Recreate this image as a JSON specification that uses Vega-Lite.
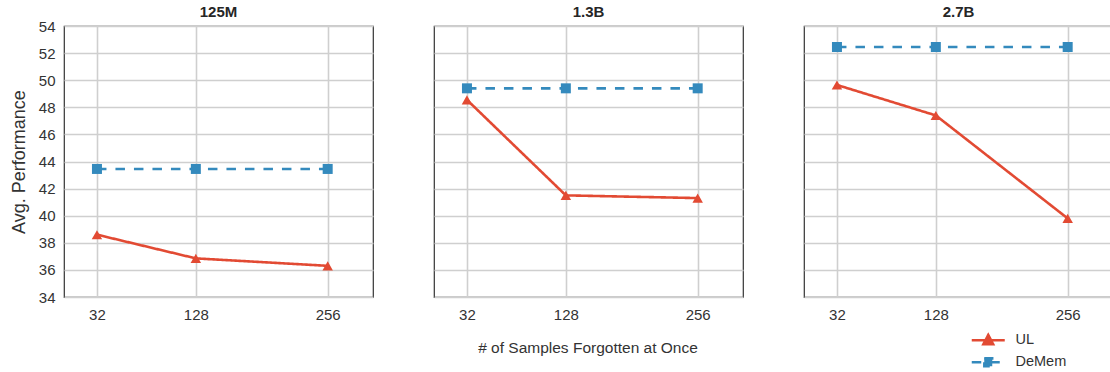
{
  "$schema": "https://vega.github.io/schema/vega-lite/v6.json",
  "padding": {"left": 10, "top": 5, "right": 0, "bottom": 0},
  "background": "white",
  "data": {"values": [
    {"model": "125M", "series": "UL", "n": 32, "perf": 38.6},
    {"model": "125M", "series": "UL", "n": 128, "perf": 36.85},
    {"model": "125M", "series": "UL", "n": 256, "perf": 36.3},
    {"model": "125M", "series": "DeMem", "n": 32, "perf": 43.45},
    {"model": "125M", "series": "DeMem", "n": 128, "perf": 43.45},
    {"model": "125M", "series": "DeMem", "n": 256, "perf": 43.45},
    {"model": "1.3B", "series": "UL", "n": 32, "perf": 48.55},
    {"model": "1.3B", "series": "UL", "n": 128, "perf": 41.5},
    {"model": "1.3B", "series": "UL", "n": 256, "perf": 41.3},
    {"model": "1.3B", "series": "DeMem", "n": 32, "perf": 49.4},
    {"model": "1.3B", "series": "DeMem", "n": 128, "perf": 49.4},
    {"model": "1.3B", "series": "DeMem", "n": 256, "perf": 49.4},
    {"model": "2.7B", "series": "UL", "n": 32, "perf": 49.65},
    {"model": "2.7B", "series": "UL", "n": 128, "perf": 47.4},
    {"model": "2.7B", "series": "UL", "n": 256, "perf": 39.8},
    {"model": "2.7B", "series": "DeMem", "n": 32, "perf": 52.45},
    {"model": "2.7B", "series": "DeMem", "n": 128, "perf": 52.45},
    {"model": "2.7B", "series": "DeMem", "n": 256, "perf": 52.45}
  ]},
  "facet": {
    "column": {
      "field": "model", "type": "nominal", "sort": ["125M", "1.3B", "2.7B"],
      "header": {
        "title": "# of Samples Forgotten at Once", "titleOrient": "bottom", "titleFont": "Liberation Sans", "titleFontSize": 15.5, "titleFontWeight": "normal", "titleColor": "#333333", "titlePadding": 9,
        "labelFont": "Liberation Sans", "labelFontSize": 15, "labelFontWeight": "bold", "labelColor": "#262626", "labelPadding": 5
      }
    }
  },
  "spacing": 59,
  "spec": {
    "width": 309,
    "height": 271,
    "layer": [
      {
        "mark": {"type": "line", "strokeWidth": 2.6},
        "encoding": {
          "strokeDash": {"field": "series", "type": "nominal", "scale": {"domain": ["UL", "DeMem"], "range": [[1, 0], [9.5, 9]]}, "legend": null}
        }
      },
      {
        "transform": [{"filter": "datum.series === 'UL'"}],
        "mark": {"type": "point", "shape": "triangle-up", "filled": true, "opacity": 1, "size": 110},
        "encoding": {}
      },
      {
        "transform": [{"filter": "datum.series === 'DeMem'"}],
        "mark": {"type": "point", "shape": "square", "filled": true, "opacity": 1, "size": 100},
        "encoding": {}
      }
    ],
    "encoding": {
      "x": {
        "field": "n", "type": "quantitative",
        "title": null,
        "scale": {"domain": [0, 300], "nice": false, "zero": false},
        "axis": {"values": [32, 128, 256], "ticks": false, "domain": false, "labelFont": "Liberation Sans", "labelFontSize": 15, "labelColor": "#333333", "labelPadding": 9, "gridColor": "#cfcfcf", "gridWidth": 1.6}
      },
      "y": {
        "field": "perf", "type": "quantitative",
        "title": "Avg. Performance",
        "scale": {"domain": [34, 54], "nice": false, "zero": false},
        "axis": {"values": [34, 36, 38, 40, 42, 44, 46, 48, 50, 52, 54], "ticks": false, "domain": false, "labelFont": "Liberation Sans", "labelFontSize": 15, "labelColor": "#333333", "labelPadding": 8, "gridColor": "#cfcfcf", "gridWidth": 1.6, "titleFont": "Liberation Sans", "titleFontSize": 18, "titleFontWeight": "normal", "titleColor": "#333333", "titlePadding": 10}
      },
      "color": {
        "field": "series", "type": "nominal",
        "scale": {"domain": ["UL", "DeMem"], "range": ["#E24A33", "#348ABD"]},
        "legend": {
          "title": null, "orient": "none", "legendX": 917, "legendY": 307,
          "padding": 0, "symbolSize": 100, "symbolStrokeWidth": 2.4, "labelOffset": 20,
          "rowPadding": 3, "labelFont": "Liberation Sans", "labelFontSize": 14.5, "labelColor": "#333333",
          "encode": {
            "symbols": {
              "update": {
                "shape": {"signal": "datum.value === 'UL' ? 'M-3.3,0H3.3M0,-1.1L1,0.8H-1Z' : 'M-3.3,0H3.3M-0.8,-0.8H0.8V0.8H-0.8Z'"},
                "fill": {"signal": "datum.value === 'UL' ? '#E24A33' : '#348ABD'"},
                "stroke": {"signal": "datum.value === 'UL' ? '#E24A33' : '#348ABD'"},
                "strokeDash": {"signal": "datum.value === 'UL' ? [1, 0] : [10, 3]"},
                "fillOpacity": {"value": 1},
                "opacity": {"value": 1}
              }
            }
          }
        }
      }
    }
  },
  "config": {
    "view": {"stroke": "#333333", "strokeWidth": 1.2},
    "axis": {"grid": true}
  }
}
